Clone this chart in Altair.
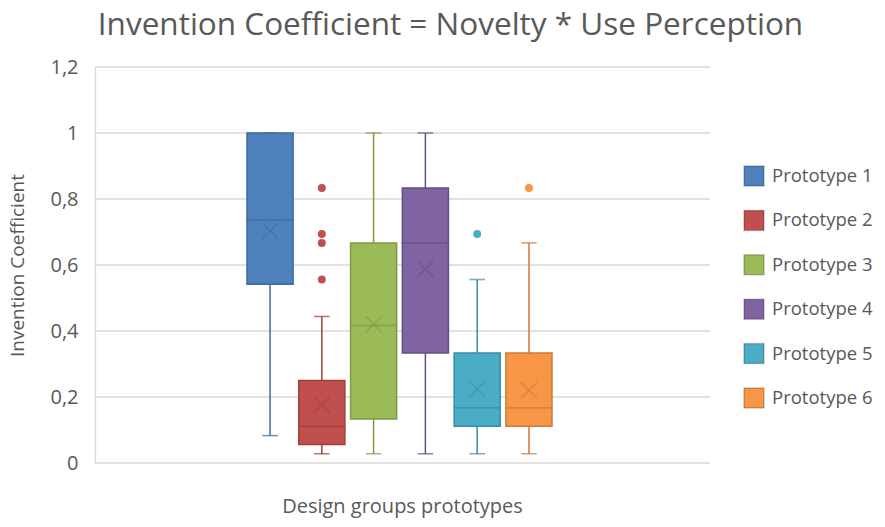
import altair as alt
import pandas as pd

series = ["Prototype 1", "Prototype 2", "Prototype 3", "Prototype 4", "Prototype 5", "Prototype 6"]
mins = [0.083, 0.028, 0.028, 0.028, 0.028, 0.028]
q1s = [0.542, 0.056, 0.133, 0.333, 0.111, 0.111]
medians = [0.736, 0.111, 0.417, 0.667, 0.167, 0.167]
q3s = [1.0, 0.25, 0.667, 0.833, 0.333, 0.333]
maxs = [1.0, 0.444, 1.0, 1.0, 0.556, 0.667]
means = [0.703, 0.176, 0.42, 0.588, 0.224, 0.22]
outlier_series = ["Prototype 2", "Prototype 2", "Prototype 2", "Prototype 2", "Prototype 5", "Prototype 6"]
outlier_values = [0.833, 0.694, 0.667, 0.556, 0.694, 0.833]
fill_colors = ["#4F81BD", "#C0504D", "#9BBB59", "#8064A2", "#4BACC6", "#F79646"]
stroke_colors = ["#3E6A9F", "#A03E3B", "#7E9B45", "#664E86", "#3A8DA5", "#D0793A"]
y_ticks = [0, 0.2, 0.4, 0.6, 0.8, 1.0, 1.2]

FONT = "Open Sans"
TXT = "#595959"

stats = pd.DataFrame({
    "series": series, "min": mins, "q1": q1s, "median": medians,
    "q3": q3s, "max": maxs, "mean": means,
})
outliers = pd.DataFrame({"series": outlier_series, "value": outlier_values})
grid = pd.DataFrame({"tick": y_ticks})

x_enc = alt.X(
    "series:N",
    scale=alt.Scale(domain=series, range=[152, 457], paddingInner=0.11, paddingOuter=0),
    axis=alt.Axis(title="Design groups prototypes", labels=False, ticks=False, domain=False,
                  grid=False, titleFont=FONT, titleFontSize=20, titleFontWeight="normal",
                  titleColor=TXT, titlePadding=33, titleX=307, titleAnchor="middle"),
)
y_scale = alt.Scale(domain=[0, 1.2], nice=False)
y_axis = alt.Axis(
    title="Invention Coefficient", values=y_ticks, ticks=False,
    labelExpr="replace(format(datum.value, '.1~f'), '.', ',')",
    labelFont=FONT, labelFontSize=20, labelColor=TXT, labelPadding=17,
    titleFont=FONT, titleFontSize=19, titleFontWeight="normal", titleColor=TXT, titlePadding=22,
    grid=False, domain=True, domainColor="#D9D9D9", domainWidth=1.3,
)

# stroke scale: same mapping, domain listed in reverse so its legend is kept apart
stroke_scale = alt.Scale(domain=series[::-1], range=stroke_colors[::-1])
fill_scale = alt.Scale(domain=series, range=fill_colors)
legend = alt.Legend(
    title=None, orient="none", legendX=648, legendY=98,
    symbolType="square", symbolSize=400, symbolStrokeColor="rgba(0,0,0,0.22)",
    symbolStrokeWidth=1.5, labelFont=FONT, labelFontSize=18.5, labelColor=TXT,
    labelOffset=7, rowPadding=18.4, symbolOpacity=1,
)

gridlines = alt.Chart(grid).mark_rule(color="#D9D9D9", strokeWidth=1.3).encode(
    y=alt.Y("tick:Q", scale=y_scale, axis=y_axis),
    x=alt.value(0), x2=alt.value(615),
)

base = alt.Chart(stats).encode(x=x_enc)
stroke_enc = alt.Stroke("series:N", scale=stroke_scale, legend=None)

whisker = base.mark_rule(strokeWidth=1.5).encode(
    y=alt.Y("min:Q"), y2="max:Q", stroke=stroke_enc,
)
cap_lo = base.mark_tick(size=14, thickness=0.1, filled=False, strokeWidth=1.5).encode(
    y=alt.Y("min:Q"), stroke=stroke_enc,
)
cap_hi = base.mark_tick(size=14, thickness=0.1, filled=False, strokeWidth=1.5).encode(
    y=alt.Y("max:Q"), stroke=stroke_enc,
)
box = base.mark_bar().encode(
    y=alt.Y("q1:Q"), y2="q3:Q",
    color=alt.Color("series:N", scale=fill_scale, legend=legend),
)
box_outline = base.mark_bar(filled=False, strokeWidth=1.5).encode(
    y=alt.Y("q1:Q"), y2="q3:Q", stroke=stroke_enc,
)
median = base.mark_tick(size=46, thickness=0.1, filled=False, strokeWidth=1.5).encode(
    y=alt.Y("median:Q"), stroke=stroke_enc,
)
mean = base.mark_point(shape="M-1,-1L1,1M-1,1L1,-1", filled=False, size=256,
                       strokeWidth=1.5, strokeOpacity=0.75).encode(
    y=alt.Y("mean:Q"), stroke=stroke_enc,
)
outl = alt.Chart(outliers).mark_circle(size=64, opacity=1).encode(
    x=alt.X("series:N"),
    y=alt.Y("value:Q"),
    color=alt.Color("series:N", scale=fill_scale, legend=legend),
)

chart = alt.layer(gridlines, whisker, cap_lo, cap_hi, box, box_outline, median, mean, outl).properties(
    width=615, height=396,
    title=alt.TitleParams("Invention Coefficient = Novelty * Use Perception", font=FONT,
                          fontSize=31.5, fontWeight="normal", color=TXT, anchor="middle",
                          dx=48, offset=16),
    autosize=alt.AutoSizeParams(type="none"),
    padding={"left": 87, "top": 59, "right": 167, "bottom": 56},
    background="white",
).configure_view(stroke=None)

chart.save("out.html", embed_options={"renderer": "svg", "actions": False})
